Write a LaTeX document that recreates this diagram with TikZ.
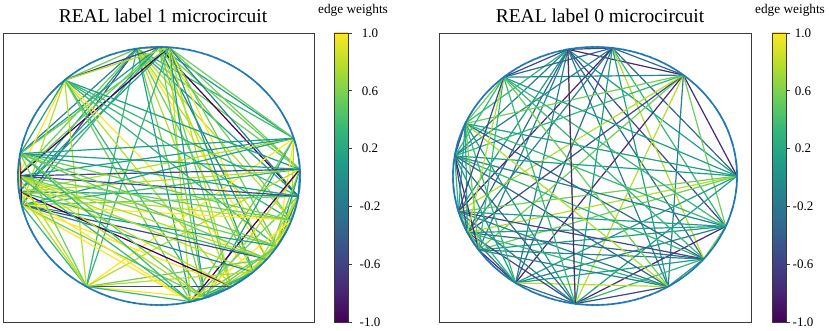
\documentclass[tikz,border=0pt]{standalone}
\usepackage{fontspec}
\setmainfont{Liberation Serif}
\definecolor{v0}{HTML}{440154}
\definecolor{v1}{HTML}{482878}
\definecolor{v2}{HTML}{3E4989}
\definecolor{v3}{HTML}{31688E}
\definecolor{v4}{HTML}{26828E}
\definecolor{v5}{HTML}{1F9E89}
\definecolor{v6}{HTML}{35B779}
\definecolor{v7}{HTML}{6ECE58}
\definecolor{v8}{HTML}{B5DE2B}
\definecolor{v9}{HTML}{FDE725}
\definecolor{dotblue}{HTML}{1F77B4}
\definecolor{framegray}{HTML}{3A3A3A}
\newcommand\pickL{%
 \pgfmathsetmacro\myr{rnd}%
 \ifdim\myr pt<0.06pt \def\mycc{v0}\else
 \ifdim\myr pt<0.10pt \def\mycc{v2}\else
 \ifdim\myr pt<0.15pt \def\mycc{v4}\else
 \ifdim\myr pt<0.25pt \def\mycc{v5}\else
 \ifdim\myr pt<0.43pt \def\mycc{v6}\else
 \ifdim\myr pt<0.63pt \def\mycc{v7}\else
 \ifdim\myr pt<0.83pt \def\mycc{v8}\else
 \def\mycc{v9}\fi\fi\fi\fi\fi\fi\fi}
\newcommand\pickR{%
 \pgfmathsetmacro\myr{rnd}%
 \ifdim\myr pt<0.01pt \def\mycc{v1}\else
 \ifdim\myr pt<0.05pt \def\mycc{v2}\else
 \ifdim\myr pt<0.16pt \def\mycc{v3}\else
 \ifdim\myr pt<0.36pt \def\mycc{v4}\else
 \ifdim\myr pt<0.60pt \def\mycc{v5}\else
 \ifdim\myr pt<0.80pt \def\mycc{v6}\else
 \ifdim\myr pt<0.92pt \def\mycc{v7}\else
 \def\mycc{v8}\fi\fi\fi\fi\fi\fi\fi}
\tikzset{
  edge/.style={line width=1.2pt},
  panelframe/.style={draw=framegray, line width=0.9pt},
  cbarframe/.style={draw=framegray, line width=0.8pt},
  ticklab/.style={font=\fontsize{13}{15}\selectfont, inner sep=0pt},
  titlelab/.style={font=\fontsize{19.5}{22}\selectfont, inner sep=0pt, anchor=base},
  cblab/.style={font=\fontsize{13.3}{15}\selectfont, inner sep=0pt, anchor=base},
  ringdot/.style={fill=dotblue},
}
\begin{document}
\begin{tikzpicture}[x=1pt,y=-1pt]
\useasboundingbox (0,0) rectangle (829,330);
\fill[white] (0,0) rectangle (829,330);
\pgfmathsetseed{11}
% ---------- left panel nodes ----------
\foreach \n/\a in {1/99,2/90,3/86,4/132,5/17,6/3,7/351,8/340,9/327,10/320,11/312,12/301,13/289,14/283,15/239,16/193,17/187,18/180,19/170}
  \coordinate (L\n) at ({159+141*cos(\a)},{176-129*sin(\a)});
\foreach \i in {1,...,19}{
  \foreach \j in {1,...,19}{
    \ifnum\j>\i
      \pgfmathsetmacro\myq{rnd}
      \ifnum\i=1 \def\myq{0}\fi
      \ifdim\myq pt<0.78pt
        \pickL
        \draw[edge,color=\mycc] (L\i) -- (L\j);
      \fi
    \fi
  }
}
\foreach \a in {0,0.5,...,359.5}
  \fill[ringdot] ({159+141*cos(\a)},{176-129*sin(\a)}) circle (1.1);
% ---------- right panel nodes ----------
\foreach \n/\a in {1/101,2/83,3/51.5,4/0,5/337,6/320,7/301,8/262,9/236,10/215,11/206,12/196,13/171,14/156,15/130}
  \coordinate (R\n) at ({595+142*cos(\a)},{176-129*sin(\a)});
\foreach \i in {1,...,15}{
  \foreach \j in {1,...,15}{
    \ifnum\j>\i
      \pgfmathsetmacro\myq{rnd}
      \ifdim\myq pt<0.9pt
        \pickR
        \draw[edge,color=\mycc] (R\i) -- (R\j);
      \fi
    \fi
  }
}
\draw[edge,color=v1] (R1) -- (R8);
\foreach \a in {0,0.5,...,359.5}
  \fill[ringdot] ({595+142*cos(\a)},{176-129*sin(\a)}) circle (1.1);
% ---------- frames ----------
\draw[panelframe] (3,33) rectangle (314,322);
\draw[panelframe] (439,33) rectangle (751,322);
% ---------- titles ----------
\node[titlelab] (t1) at (163,22) {REAL label 1 microcircuit};
\node[titlelab] (t2) at (600,22) {REAL label 0 microcircuit};
\node[cblab] (e1) at (353,13.5) {edge weights};
\node[cblab] (e2) at (790,13.5) {edge weights};
% ---------- colorbars ----------
\foreach \cx/\lx in {334/370,772/803}{
  \foreach \ca/\cb [count=\k from 0] in {v0/v1,v1/v2,v2/v3,v3/v4,v4/v5,v5/v6,v6/v7,v7/v8,v8/v9}{
    \shade[bottom color=\ca, top color=\cb] (\cx,{322-\k*289/9+0.3}) rectangle ({\cx+14},{322-(\k+1)*289/9-0.3});
  }
  \draw[cbarframe] (\cx,33) rectangle ({\cx+14},322);
  \foreach \v [count=\k from 0] in {1.0,0.6,0.2,-0.2,-0.6,-1.0}{
    \draw[framegray, line width=0.8pt] ({\cx+14},{33+\k*57.8}) -- ({\cx+17.5},{33+\k*57.8});
    \node[ticklab] at (\lx,{33+\k*57.8}) {\v};
  }
}
\end{tikzpicture}
\end{document}
